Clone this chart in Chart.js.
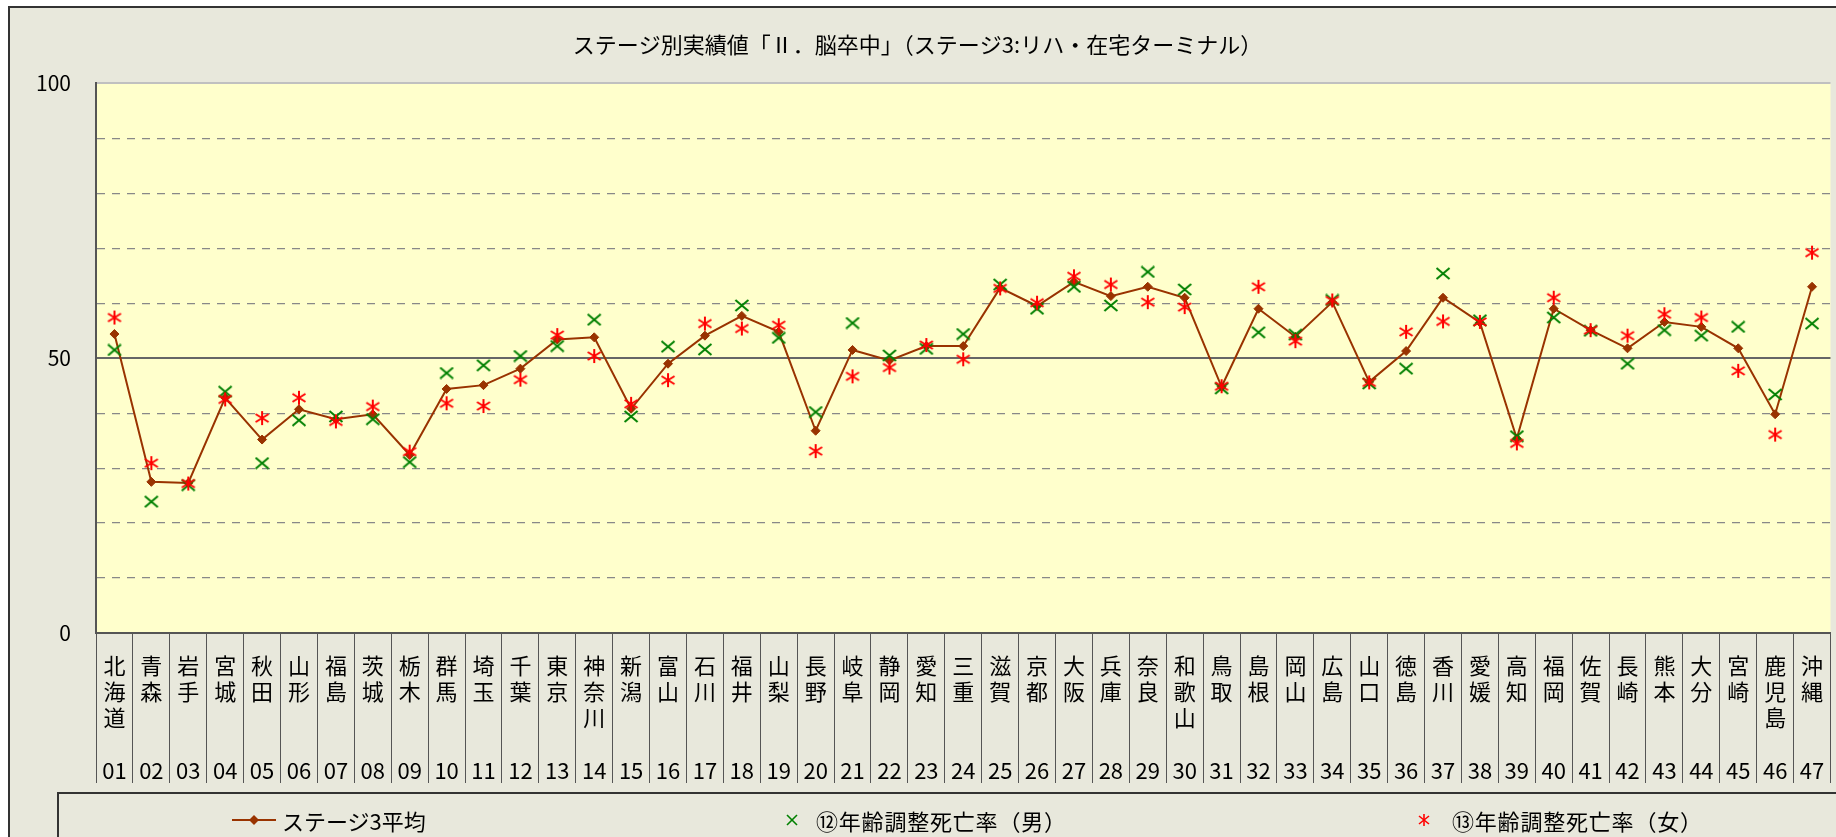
<!DOCTYPE html>
<html lang="ja">
<head>
<meta charset="utf-8">
<title>ステージ別実績値</title>
<script src="https://cdn.jsdelivr.net/npm/chart.js@4.4.1/dist/chart.umd.min.js"></script>
<style>
  html, body { margin: 0; padding: 0; background: #fff; overflow: hidden; }
  #frame { position: absolute; left: 8px; top: 6px; width: 1900px; height: 900px;
           background: #E8E8DC; border-left: 2px solid #333; border-top: 2px solid #333; }
  #wrap { position: absolute; left: 0; top: 0; width: 1836px; height: 837px; }
  #legend { position: absolute; left: 57px; top: 792px; width: 1900px; height: 100px;
            border: 2px solid #333; box-sizing: border-box;
            font-family: "Noto Sans CJK JP", sans-serif; font-size: 22px; color: #000; }
  .item { position: absolute; top: 11px; line-height: 30px; white-space: nowrap; }
  .mark { position: absolute; top: 19px; }
</style>
</head>
<body>
<div id="frame"></div>
<div id="wrap"><canvas id="chart" width="1836" height="837"></canvas></div>
<div id="legend">
  <svg class="mark" style="left:173px; top:19px" width="44" height="14">
    <line x1="0" y1="7" x2="44" y2="7" stroke="#993300" stroke-width="2"/>
    <polygon points="22,2 27,7 22,12 17,7" fill="#993300"/>
  </svg>
  <span class="item" style="left:223px">ステージ3平均</span>
  <svg class="mark" style="left:727px; top:20px" width="12" height="12">
    <line x1="1" y1="1" x2="11" y2="11" stroke="#008000" stroke-width="1.6"/>
    <line x1="11" y1="1" x2="1" y2="11" stroke="#008000" stroke-width="1.6"/>
  </svg>
  <span class="item" style="left:757px; letter-spacing:0.8px">⑫年齢調整死亡率（男）</span>
  <svg class="mark" style="left:1359px; top:20px" width="12" height="12">
    <line x1="6" y1="0" x2="6" y2="12" stroke="#FF0000" stroke-width="1.6"/>
    <line x1="1" y1="2" x2="11" y2="10" stroke="#FF0000" stroke-width="1.6"/>
    <line x1="11" y1="2" x2="1" y2="10" stroke="#FF0000" stroke-width="1.6"/>
  </svg>
  <span class="item" style="left:1393px; letter-spacing:0.8px">⑬年齢調整死亡率（女）</span>
</div>
<script>
const prefNames = ['北海道','青森','岩手','宮城','秋田','山形','福島','茨城','栃木','群馬',
  '埼玉','千葉','東京','神奈川','新潟','富山','石川','福井','山梨','長野',
  '岐阜','静岡','愛知','三重','滋賀','京都','大阪','兵庫','奈良','和歌山',
  '鳥取','島根','岡山','広島','山口','徳島','香川','愛媛','高知','福岡',
  '佐賀','長崎','熊本','大分','宮崎','鹿児島','沖縄'];
const prefCodes = ['01','02','03','04','05','06','07','08','09','10','11','12','13','14','15','16',
  '17','18','19','20','21','22','23','24','25','26','27','28','29','30','31','32',
  '33','34','35','36','37','38','39','40','41','42','43','44','45','46','47'];

// ステージ3平均
const stageAvg = [54.4, 27.5, 27.3, 42.8, 35.2, 40.7, 38.9, 39.8, 32.4, 44.4,
  45.1, 48.1, 53.4, 53.8, 40.8, 49.0, 54.1, 57.7, 54.8, 36.8,
  51.5, 49.6, 52.2, 52.2, 62.8, 59.5, 63.9, 61.3, 63.0, 61.0,
  44.8, 59.0, 53.9, 60.2, 45.7, 51.3, 61.0, 56.5, 35.4, 59.0,
  55.1, 51.8, 56.6, 55.7, 51.8, 39.8, 63.0];
// ⑫年齢調整死亡率(男)
const rateMale = [51.5, 23.9, 26.9, 43.9, 30.9, 38.7, 39.4, 38.9, 31.1, 47.3,
  48.7, 50.4, 52.2, 57.0, 39.4, 52.1, 51.6, 59.6, 53.7, 40.2,
  56.4, 50.5, 51.7, 54.4, 63.4, 59.0, 63.0, 59.6, 65.7, 62.5,
  44.5, 54.7, 54.3, 60.6, 45.4, 48.1, 65.4, 56.9, 35.8, 57.4,
  55.0, 49.0, 55.1, 54.1, 55.7, 43.4, 56.3];
// ⑬年齢調整死亡率(女)
const rateFemale = [57.4, 30.9, 27.2, 42.5, 39.1, 42.8, 38.5, 41.2, 33.0, 41.8,
  41.3, 46.1, 54.2, 50.4, 41.7, 46.0, 56.3, 55.4, 56.0, 33.1,
  46.7, 48.3, 52.4, 49.8, 62.7, 60.1, 64.9, 63.4, 60.2, 59.3,
  44.9, 63.0, 53.1, 60.5, 45.6, 54.8, 56.7, 56.6, 34.5, 61.0,
  55.1, 54.1, 58.0, 57.4, 47.7, 36.1, 69.2];

const yLabeled = [0, 50, 100];

// vertical labels: chars stacked, then blank line(s), then the code
const labels = prefNames.map((n, i) => {
  const chars = n.split('');
  while (chars.length < 4) chars.push('');
  return chars.concat([prefCodes[i]]);
});

function markImage(kind) {
  const c = document.createElement('canvas');
  c.width = 16; c.height = kind === 'x' ? 13 : 16;
  const g = c.getContext('2d');
  g.lineWidth = 2;
  g.beginPath();
  if (kind === 'x') {
    g.strokeStyle = '#008000';
    g.moveTo(1.5, 1); g.lineTo(14.5, 12);
    g.moveTo(14.5, 1); g.lineTo(1.5, 12);
  } else {
    g.strokeStyle = '#FF0000';
    g.moveTo(8, 1); g.lineTo(8, 15);
    g.moveTo(1.5, 4); g.lineTo(14.5, 12);
    g.moveTo(14.5, 4); g.lineTo(1.5, 12);
  }
  g.stroke();
  return c;
}

const plotBg = {
  id: 'plotBg',
  beforeDraw(chart) {
    const a = chart.chartArea, ctx = chart.ctx;
    ctx.save();
    ctx.fillStyle = '#FFFFCC';
    ctx.fillRect(a.left, a.top, a.right - a.left, a.bottom - a.top);
    ctx.restore();
  }
};

const jp = '"Noto Sans CJK JP", sans-serif';

new Chart(document.getElementById('chart'), {
  type: 'line',
  data: {
    labels: labels,
    datasets: [{
      label: 'ステージ3平均',
      data: stageAvg,
      borderColor: '#993300',
      backgroundColor: '#993300',
      borderWidth: 2,
      pointStyle: 'rectRot',
      pointRadius: 4.5,
      pointBorderWidth: 1,
      order: 2
    }, {
      label: '⑫年齢調整死亡率(男)',
      data: rateMale,
      showLine: false,
      pointStyle: markImage('x'),
      order: 1
    }, {
      label: '⑬年齢調整死亡率(女)',
      data: rateFemale,
      showLine: false,
      pointStyle: markImage('star'),
      order: 0
    }]
  },
  options: {
    responsive: false,
    animation: false,
    layout: { padding: { top: 0, right: 1, left: 0, bottom: 0 } },
    plugins: {
      legend: { display: false },
      tooltip: { enabled: false },
      title: {
        display: true,
        text: 'ステージ別実績値「Ⅱ．脳卒中」（ステージ3:リハ・在宅ターミナル）',
        color: '#000',
        font: { family: jp, size: 22, weight: 'normal', lineHeight: 1.2 },
        padding: { top: 31, bottom: 26 }
      }
    },
    scales: {
      x: {
        offset: true,
        grid: { display: true, drawOnChartArea: false, offset: true, tickLength: 150,
                tickColor: '#555', tickWidth: 1, color: '#555' },
        border: { display: true, color: '#555', width: 2 },
        ticks: {
          autoSkip: false, maxRotation: 0, minRotation: 0, padding: -131,
          color: '#000', font: { family: jp, size: 22, lineHeight: 1.2 }
        },
        afterFit(scale) { scale.height = 204; }
      },
      y: {
        min: 0, max: 100,
        border: {
          display: true, color: '#555', width: 2,
          dash: ctx => (ctx.tick && ctx.tick.value % 50 !== 0) ? [8, 7] : []
        },
        grid: {
          drawTicks: false,
          color: ctx => {
            const v = ctx.tick ? ctx.tick.value : -1;
            if (v === 0) return 'rgba(0,0,0,0)';
            if (v === 50) return '#666';
            if (v === 100) return '#C0C0C0';
            return '#888';
          },
          lineWidth: ctx => (ctx.tick && (ctx.tick.value === 50 || ctx.tick.value === 100)) ? 2 : 1.2
        },
        ticks: {
          stepSize: 10, padding: 25, color: '#000',
          font: { family: jp, size: 21 },
          callback: v => yLabeled.includes(v) ? String(v) : ''
        },
        afterFit(scale) { scale.width = 96; }
      }
    }
  },
  plugins: [plotBg]
});
</script>
</body>
</html>
